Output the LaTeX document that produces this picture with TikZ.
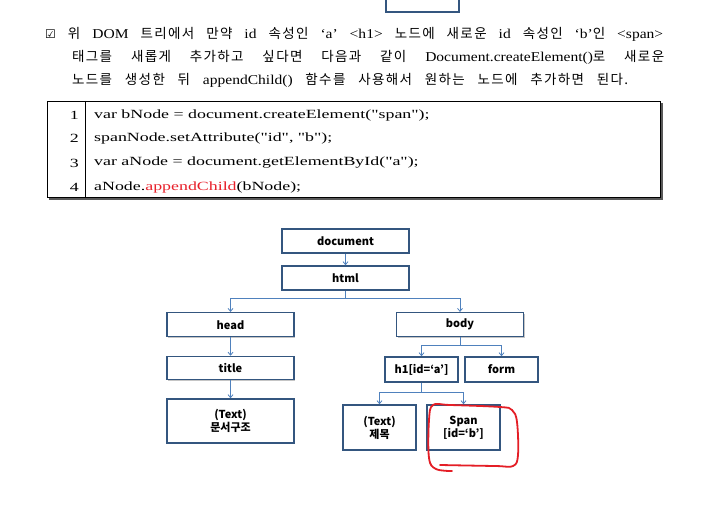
\documentclass[tikz,border=0pt]{standalone}
\usepackage{fontspec}
\usepackage{xcolor}
\setmainfont{Liberation Serif}[FakeStretch=1.15]
\newfontfamily\krfont{Noto Sans CJK KR}
\newfontfamily\krprose{Noto Sans CJK KR}[LetterSpace=10]
\newfontfamily\symfont{DejaVu Sans}
\newfontfamily\codefont{Liberation Serif}[FakeStretch=1.43]
\usetikzlibrary{arrows.meta,shadows}
\definecolor{BoxBlue}{HTML}{34567F}
\definecolor{LinkBlue}{HTML}{4F81BD}
\definecolor{PenRed}{HTML}{E41E26}
\definecolor{CodeRed}{HTML}{E8202A}
\newcommand\kr[1]{{\krprose #1}}

\begin{document}
\begin{tikzpicture}[x=1pt, y=-1pt,
        treebox/.style={draw=BoxBlue, line width=1.5pt, fill=white, inner sep=0pt, align=center,
            font=\krfont\bfseries\fontsize{11}{13}\selectfont,
            drop shadow={shadow xshift=1.2pt, shadow yshift=-1.2pt, fill=black!45, opacity=0.5}},
        wide/.style={minimum width=127pt},
        narrow/.style={minimum width=73pt},
        link/.style={draw=LinkBlue, line width=0.8pt, -{Straight Barb[length=3pt,width=5pt]}},
        prose/.style={anchor=west, inner sep=0pt, font=\fontsize{13.5}{15}\selectfont},
        codeline/.style={anchor=west, inner sep=0pt, font=\codefont\fontsize{12.5}{14}\selectfont}]
    \fill[white] (0,0) rectangle (712,505);
    \useasboundingbox (0,0) rectangle (712,505);

    % piece of the box above
    \draw[BoxBlue, line width=1.2pt] (386,0) -- (386,12) -- (459,12) -- (459,0);

    % text
    \node[prose] (line1) at (45,34) {\makebox[618pt][s]{{\symfont\fontsize{12}{14}\selectfont ☑} \kr{위} DOM \kr{트리에서} \kr{만약} id \kr{속성인} ‘a’ <h1> \kr{노드에} \kr{새로운} id \kr{속성인} ‘b’\kr{인} <span>}};
    \node[prose] (line2) at (72,57) {\makebox[592pt][s]{\kr{태그를} \kr{새롭게} \kr{추가하고} \kr{싶다면} \kr{다음과} \kr{같이} Document.createElement()\kr{로} \kr{새로운}}};
    \node[prose] (line3) at (72,80) {\makebox[556pt][s]{\kr{노드를} \kr{생성한} \kr{뒤} appendChild() \kr{함수를} \kr{사용해서} \kr{원하는} \kr{노드에} \kr{추가하면} \kr{된다.}}};

    % code listing
    \draw[black!65, line width=2.2pt] (49,199) -- (662,199) -- (662,103);
    \draw[black, line width=0.7pt, fill=white] (47,101) rectangle (660,197);
    \draw[black, line width=0.7pt] (85,101) -- (85,197);
    \foreach \n/\y in {1/115, 2/138, 3/163, 4/187}
        \node[codeline, anchor=east] (num\n) at (79,\y) {\n};
    \node[codeline] (code1) at (94,115) {var bNode = document.createElement("span");};
    \node[codeline] (code2) at (94,138) {spanNode.setAttribute("id", "b");};
    \node[codeline] (code3) at (94,163) {var aNode = document.getElementById("a");};
    \node[codeline] (code4) at (94,187) {aNode.{\color{CodeRed}appendChild}(bNode);};

    % DOM tree
    \node[treebox, wide, minimum height=24pt] (document) at (345.5,241) {document};
    \node[treebox, wide, minimum height=24pt] (html) at (345.5,278) {html};
    \node[treebox, wide, minimum height=24pt] (head) at (230.5,324.7) {head};
    \node[treebox, wide, minimum height=24pt] (body) at (460,324.7) {body};
    \node[treebox, wide, minimum height=23pt] (title) at (230.5,368) {title};
    \node[treebox, wide, minimum height=44pt] (text1) at (230.5,421) {(Text)\\문서구조};
    \node[treebox, narrow, minimum height=25pt] (h1) at (421.5,369.5) {h1[id=‘a’]};
    \node[treebox, narrow, minimum height=25pt] (form) at (501.5,369.5) {form};
    \node[treebox, narrow, minimum height=45pt] (text2) at (379.5,427.5) {(Text)\\제목};
    \node[treebox, narrow, minimum height=45pt] (span) at (463.5,427.5) {Span\\{}[id=‘b’]};

    \coordinate (htmlfork) at (345.5,298.7);
    \coordinate (bodyfork) at (460,345);
    \coordinate (h1fork) at (421.5,392);

    \draw[link] (document) -- (html);
    \draw[link, -] (html) -- (htmlfork);
    \draw[link] (htmlfork) -| (head);
    \draw[link] (htmlfork) -| (body);
    \draw[link] (head) -- (title);
    \draw[link] (title) -- (text1);
    \draw[link, -] (body) -- (bodyfork);
    \draw[link] (bodyfork) -| (h1);
    \draw[link] (bodyfork) -| (form);
    \draw[link, -] (h1) -- (h1fork);
    \draw[link] (h1fork) -| (text2);
    \draw[link] (h1fork) -| (span);

    % hand-drawn mark
    \draw[PenRed, line width=1.8pt, line cap=round, line join=round]
        plot[smooth, tension=0.6] coordinates {(452,471) (436,469) (429,458) (429,420) (433,405)
            (450,405) (500,407) (512,410) (517,422) (518,455) (513,466) (495,466) (440,465)};
\end{tikzpicture}
\end{document}
